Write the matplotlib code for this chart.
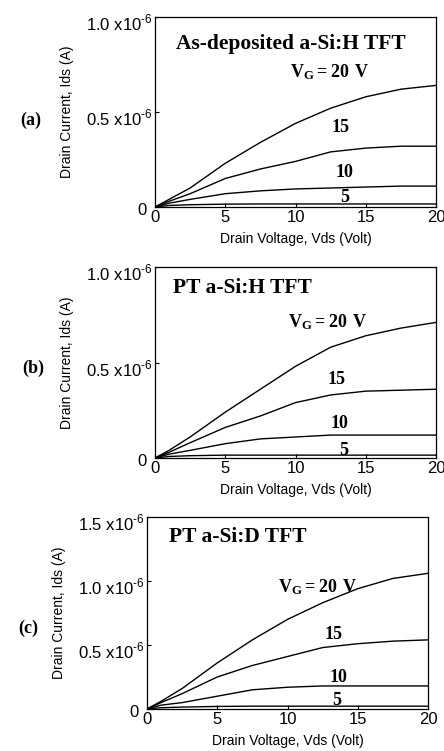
import matplotlib
matplotlib.use("Agg")
import matplotlib.pyplot as plt
import matplotlib.transforms as mtransforms

plt.rcParams["font.family"] = ["Liberation Sans", "DejaVu Sans"]
plt.rcParams["mathtext.fontset"] = "custom"
plt.rcParams["mathtext.rm"] = "Liberation Sans"
plt.rcParams["mathtext.bf"] = "Liberation Serif:bold"

# drain voltage (V)
vds = [0, 1, 2.5, 5, 7.5, 10, 12.5, 15, 17.5, 20]
gate_labels = ["20", "15", "10", "5"]

# drain current in units of 1e-6 A, one list per gate voltage
# (a) as-deposited a-Si:H
ids_a_20 = [0, 0.04, 0.10, 0.23, 0.34, 0.44, 0.52, 0.58, 0.62, 0.64]
ids_a_15 = [0, 0.03, 0.07, 0.15, 0.20, 0.24, 0.29, 0.31, 0.32, 0.32]
ids_a_10 = [0, 0.02, 0.04, 0.07, 0.085, 0.095, 0.10, 0.105, 0.11, 0.11]
ids_a_5 = [0, 0.008, 0.012, 0.015, 0.016, 0.016, 0.016, 0.016, 0.016, 0.016]
# (b) PT a-Si:H
ids_b_20 = [0, 0.04, 0.11, 0.24, 0.36, 0.48, 0.58, 0.64, 0.68, 0.71]
ids_b_15 = [0, 0.03, 0.08, 0.16, 0.22, 0.29, 0.33, 0.35, 0.355, 0.36]
ids_b_10 = [0, 0.02, 0.04, 0.075, 0.10, 0.11, 0.12, 0.12, 0.12, 0.12]
ids_b_5 = [0, 0.008, 0.012, 0.015, 0.015, 0.015, 0.015, 0.015, 0.015, 0.015]
# (c) PT a-Si:D
ids_c_20 = [0, 0.06, 0.16, 0.36, 0.54, 0.70, 0.83, 0.94, 1.02, 1.06]
ids_c_15 = [0, 0.05, 0.12, 0.25, 0.34, 0.41, 0.48, 0.51, 0.53, 0.54]
ids_c_10 = [0, 0.03, 0.05, 0.10, 0.15, 0.17, 0.18, 0.18, 0.18, 0.18]
ids_c_5 = [0, 0.01, 0.015, 0.02, 0.022, 0.022, 0.022, 0.022, 0.022, 0.022]

exp = r"$^{\text{-6}}$"
panels = [
  dict(tag="(a)", title="As-deposited a-Si:H TFT", ymax=1.0,
       yticks=[0, 0.5, 1.0], ylabels=["0", "0.5 x10" + exp, "1.0 x10" + exp],
       curves=[ids_a_20, ids_a_15, ids_a_10, ids_a_5],
       rect=[155/444, 1-207/751, 281/444, 190/751], tagpos=(31, 120),
       title_xy=(1.5, 0.86), vg_xy=(9.6, 0.71),
       num_xy=[(13.2, 0.42), (13.5, 0.18), (13.5, 0.05)]),
  dict(tag="(b)", title="PT a-Si:H TFT", ymax=1.0,
       yticks=[0, 0.5, 1.0], ylabels=["0", "0.5 x10" + exp, "1.0 x10" + exp],
       curves=[ids_b_20, ids_b_15, ids_b_10, ids_b_5],
       rect=[155/444, 1-458/751, 281/444, 191/751], tagpos=(33, 368),
       title_xy=(1.3, 0.89), vg_xy=(9.5, 0.71),
       num_xy=[(12.95, 0.41), (13.1, 0.18), (13.4, 0.04)]),
  dict(tag="(c)", title="PT a-Si:D TFT", ymax=1.5,
       yticks=[0, 0.5, 1.0, 1.5],
       ylabels=["0", "0.5 x10" + exp, "1.0 x10" + exp, "1.5 x10" + exp],
       curves=[ids_c_20, ids_c_15, ids_c_10, ids_c_5],
       rect=[147/444, 1-709/751, 281/444, 192/751], tagpos=(28, 628),
       title_xy=(1.6, 1.34), vg_xy=(9.3, 0.95),
       num_xy=[(13.3, 0.58), (13.6, 0.25), (13.5, 0.07)]),
]

fig = plt.figure(figsize=(4.44, 7.51), dpi=100)
serif = "Liberation Serif"
down = mtransforms.ScaledTranslation(0, -5/100, fig.dpi_scale_trans)
zero_shift = mtransforms.ScaledTranslation(-6/100, -2/100, fig.dpi_scale_trans)

for p in panels:
  ax = fig.add_axes(p["rect"])
  for ids in p["curves"]:
    ax.plot(vds, ids, color="black", lw=1.0)
  ax.set_xlim(0, 20)
  ax.set_ylim(0, p["ymax"])
  ax.set_xticks([0, 5, 10, 15, 20])
  ax.set_yticks(p["yticks"])
  ax.set_yticklabels(p["ylabels"])
  ax.tick_params(direction="in", length=3, width=0.8, labelsize=12, pad=2)
  for i, lab in enumerate(ax.get_yticklabels()):
    lab.set_transform(lab.get_transform() + (zero_shift if i == 0 else down))
  for s in ax.spines.values():
    s.set_linewidth(0.9)
  ax.set_xlabel("Drain Voltage, Vds (Volt)", fontsize=10)
  ax.set_ylabel("Drain Current, Ids (A)", fontsize=10)
  ax.xaxis.set_label_coords(0.5, -0.13)
  ax.yaxis.set_label_coords(-0.29, 0.5)

  ax.text(p["title_xy"][0], p["title_xy"][1], p["title"], family=serif,
          fontweight="bold", fontsize=15.5, ha="left", va="center")
  ax.text(p["vg_xy"][0], p["vg_xy"][1], r"$\mathbf{V_G = 20\ V}$",
          fontsize=13, ha="left", va="center")
  for lab, (x, y) in zip(gate_labels[1:], p["num_xy"]):
    ax.text(x, y, lab, family=serif, fontweight="bold", fontsize=13,
            ha="center", va="center")

  fig.text(p["tagpos"][0]/444, 1-p["tagpos"][1]/751, p["tag"], family=serif,
           fontweight="bold", fontsize=13, ha="center", va="center")

fig.savefig("out.png", dpi=100)
